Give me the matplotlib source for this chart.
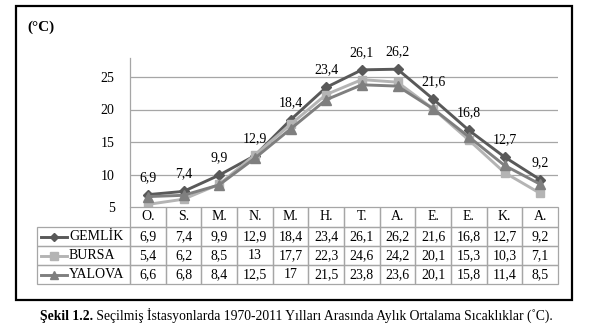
import matplotlib
matplotlib.use("Agg")
import matplotlib.pyplot as plt
from matplotlib.lines import Line2D
from matplotlib.patches import Rectangle

plt.rcParams['font.family'] = ['Liberation Serif', 'DejaVu Serif']

months = ["O.", "S.", "M.", "N.", "M.", "H.", "T.", "A.", "E.", "E.", "K.", "A."]
gemlik = [6.9, 7.4, 9.9, 12.9, 18.4, 23.4, 26.1, 26.2, 21.6, 16.8, 12.7, 9.2]
bursa = [5.4, 6.2, 8.5, 13, 17.7, 22.3, 24.6, 24.2, 20.1, 15.3, 10.3, 7.1]
yalova = [6.6, 6.8, 8.4, 12.5, 17, 21.5, 23.8, 23.6, 20.1, 15.8, 11.4, 8.5]
series_names = ["GEMLİK", "BURSA", "YALOVA"]
series_values = [gemlik, bursa, yalova]
yticks = [5, 10, 15, 20, 25]
unit_label = "(°C)"
caption_bold = "Şekil 1.2."
caption_rest = " Seçilmiş İstasyonlarda 1970-2011 Yılları Arasında Aylık Ortalama Sıcaklıklar (˚C)."

colors = ["#595959", "#b4b4b4", "#7f7f7f"]
markers = ["D", "s", "^"]
msizes = [5, 6, 6.5]

W, H = 591, 332
fig = plt.figure(figsize=(W / 100, H / 100), dpi=100)

def fx(px):
    return px / W

def fy(py):
    return 1 - py / H

# axes area (pixels)
ax_l, ax_r, ax_t, ax_b = 130, 558, 58, 207
ax = fig.add_axes([fx(ax_l), fy(ax_b), fx(ax_r - ax_l), (ax_b - ax_t) / H])
ymin = 5
ymax = 5 + (ax_b - ax_t) / 6.5
ax.set_ylim(ymin, ymax)
ax.set_xlim(-0.5, len(months) - 0.5)
x = list(range(len(months)))

for yt in yticks[1:]:
    ax.axhline(yt, color="#a6a6a6", lw=0.9, zorder=0)

for name, vals, c, m, ms in zip(series_names, series_values, colors, markers, msizes):
    ax.plot(x, vals, color=c, lw=2.1, marker=m, markersize=ms, markerfacecolor=c,
            markeredgecolor=c, solid_capstyle="round", zorder=3)

for xi, v in zip(x, gemlik):
    ax.annotate(f"{v:g}".replace(".", ","), (xi, v), xytext=(0, 12.5),
                textcoords="offset points", ha="center", va="center", fontsize=10)

ax.set_yticks(yticks)
ax.set_yticklabels([str(t) for t in yticks], fontsize=10)
ax.tick_params(axis="y", length=0, pad=11)
ax.set_xticks([])
for s in ["top", "right", "bottom"]:
    ax.spines[s].set_visible(False)
ax.spines["left"].set_color("#a6a6a6")
ax.spines["left"].set_linewidth(0.9)
ax.patch.set_visible(False)

# data table drawn in pixel coords of the figure
edge = "#a6a6a6"
col_w = (ax_r - ax_l) / len(months)
row_tops = [207, 227, 246, 265, 284]
leg_l = 37
for r in range(4):
    y0, y1 = row_tops[r], row_tops[r + 1]
    if r > 0:
        fig.patches.append(Rectangle((fx(leg_l), fy(y1)), fx(ax_l - leg_l), (y1 - y0) / H,
                                     transform=fig.transFigure, fill=False, ec=edge, lw=0.9))
    for ci in range(len(months)):
        cx0 = ax_l + ci * col_w
        fig.patches.append(Rectangle((fx(cx0), fy(y1)), fx(col_w), (y1 - y0) / H,
                                     transform=fig.transFigure, fill=False, ec=edge, lw=0.9))
        if r == 0:
            txt = months[ci]
        else:
            txt = f"{series_values[r - 1][ci]:g}".replace(".", ",")
        fig.text(fx(cx0 + col_w / 2), fy((y0 + y1) / 2), txt, ha="center", va="center",
                 fontsize=10)
    if r > 0:
        yc = fy((y0 + y1) / 2)
        c = colors[r - 1]
        fig.lines.append(Line2D([fx(41), fx(67)], [yc, yc], transform=fig.transFigure,
                                color=c, lw=2.1))
        fig.lines.append(Line2D([fx(54)], [yc], transform=fig.transFigure, color=c,
                                marker=markers[r - 1], markersize=msizes[r - 1] - 0.5, lw=0))
        fig.text(fx(69), yc, series_names[r - 1], ha="left", va="center", fontsize=10)

# outer frame
fig.patches.append(Rectangle((fx(16), fy(300)), fx(572 - 16), (300 - 6) / H,
                             transform=fig.transFigure, fill=False, ec="black", lw=1.6))

fig.text(fx(27), fy(27), unit_label, ha="left", va="center", fontsize=11, fontweight="bold")

# caption
t1 = fig.text(fx(40), fy(320), caption_bold, ha="left", va="baseline", fontsize=9.8,
              fontweight="bold")
fig.canvas.draw()
bb = t1.get_window_extent()
fig.text(bb.x1 / W, fy(320), caption_rest, ha="left", va="baseline", fontsize=9.8)

fig.savefig("out.png", dpi=100)
